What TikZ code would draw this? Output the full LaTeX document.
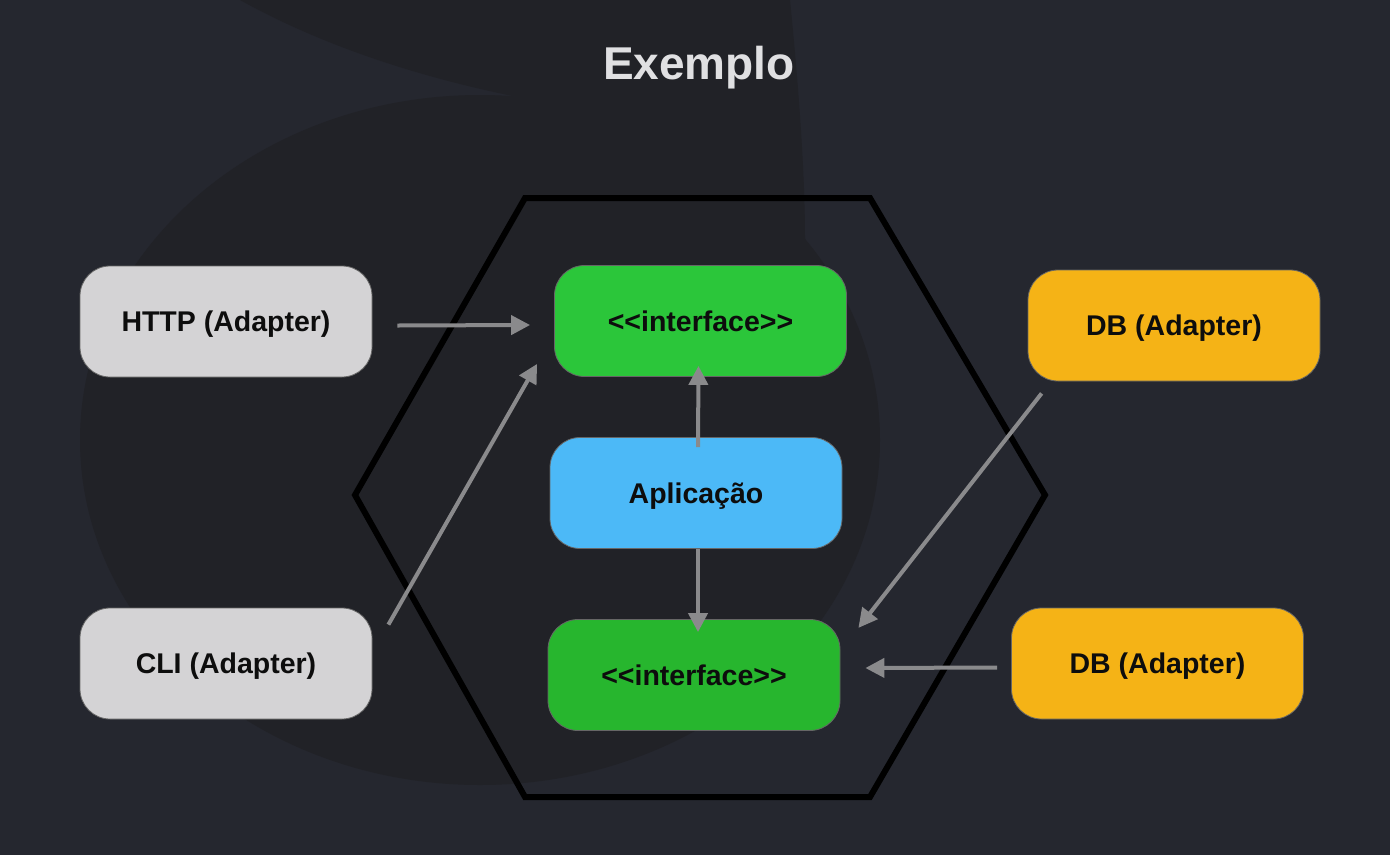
\documentclass[tikz,border=0pt]{standalone}
\usepackage{fontspec}
\setmainfont{Liberation Sans}
\usetikzlibrary{arrows.meta}
\definecolor{bgc}{HTML}{212227}
\definecolor{bgl}{HTML}{25272F}
\definecolor{grayb}{HTML}{D4D3D5}
\definecolor{greent}{HTML}{2BC63A}
\definecolor{greenb}{HTML}{27B62E}
\definecolor{blueb}{HTML}{4CB9F7}
\definecolor{orangeb}{HTML}{F5B316}
\definecolor{arrowc}{HTML}{8A8A8C}
\definecolor{titlec}{HTML}{E0E0E2}
\newcommand{\ifc}{<\kern0pt<interface>\kern0pt>}
\tikzset{
  box/.style={rounded corners=30pt, minimum width=292pt, minimum height=111pt,
    draw=black!60, line width=0.8pt, inner sep=0pt, text height=20pt, text depth=0pt,
    font=\fontsize{28.5}{32}\selectfont\bfseries, text=black!95},
  flow/.style={draw=arrowc, line width=4pt, -{Triangle[length=19pt,width=19pt]}},
}
\begin{document}
\begin{tikzpicture}[x=1pt,y=-1pt]
\useasboundingbox (0,0) rectangle (1390,855);
\fill[bgl] (0,0) rectangle (1390,855);
% faint darker background swirl
\fill[bgc] (480,440) ellipse [x radius=400, y radius=345];
\fill[bgc] (240,0) -- (790,0) .. controls (800,100) and (805,180) .. (805,239)
  -- (600,111) .. controls (450,90) and (330,50) .. (240,0) -- cycle;

\node[font=\fontsize{46}{52}\selectfont\bfseries, text=titlec] (title) at (699,68) {Exemplo};

% hexagon
\draw[black, line width=6pt, line join=miter]
  (355,495) -- (525,198) -- (870,198) -- (1045,495) -- (870,797) -- (525,797) -- cycle;

\node[box, fill=grayb] (http) at (226,321.5) {HTTP (Adapter)};
\node[box, fill=grayb] (cli) at (226,663.5) {CLI (Adapter)};
\node[box, fill=greent] (itop) at (700.5,321) {\ifc};
\node[box, fill=blueb] (app) at (696,493) {Aplicação};
\node[box, fill=greenb] (ibot) at (694,675) {\ifc};
\node[box, fill=orangeb] (dbtop) at (1174,325.5) {DB (Adapter)};
\node[box, fill=orangeb] (dbbot) at (1157.5,663.5) {DB (Adapter)};

\draw[flow] ([shift={(25,4)}]http.east) -- ([shift={(-24,4)}]itop.west);
\draw[flow] ([shift={(16,17)}]cli.north east) -- ([shift={(-17,-13)}]itop.south west);
\draw[flow] ([shift={(2,10)}]app.north) -- ([shift={(-2,-11)}]itop.south);
\draw[flow] ([shift={(2,0)}]app.south) -- ([shift={(4,13)}]ibot.north);
\draw[flow] ([shift={(14,12)}]dbtop.south west) -- ([shift={(18,-103)}]ibot.south east);
\draw[flow] ([shift={(-14,4)}]dbbot.west) -- ([shift={(25,-7)}]ibot.east);
\end{tikzpicture}
\end{document}
